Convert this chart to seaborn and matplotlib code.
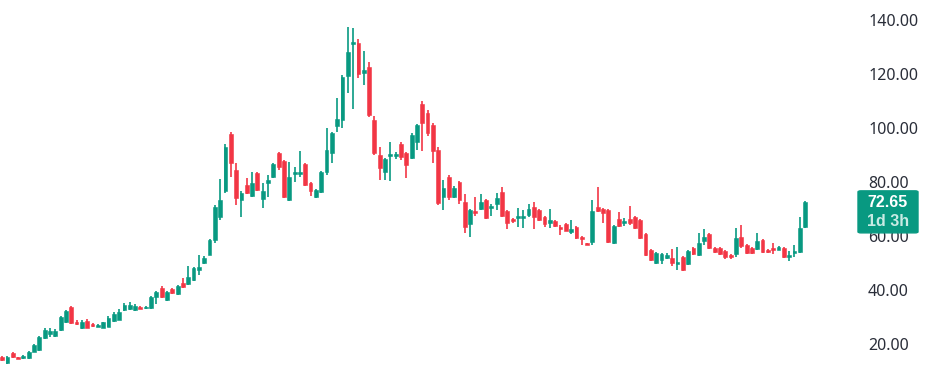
import matplotlib
matplotlib.use("Agg")
import matplotlib.pyplot as plt
from matplotlib.patches import FancyBboxPatch
import seaborn as sns
import pandas as pd
import numpy as np

# ---- data ----
opens = [15.3, 13.0, 16.7, 15.0, 14.8, 14.9, 17.2, 17.8, 22.2, 23.6, 22.8, 25.2, 28.0, 33.7, 28.0, 26.0,
         28.6, 27.3, 26.4, 26.0, 26.4, 28.5, 29.0, 32.6, 32.8, 32.6, 33.6, 33.2, 33.3, 37.4, 40.7, 36.3,
         40.4, 38.5, 42.6, 42.2, 43.7, 47.5, 50.0, 53.0, 58.5, 67.0, 76.7, 97.8, 84.4, 73.3, 79.0, 75.0,
         83.3, 73.7, 79.6, 81.9, 90.7, 87.8, 73.3, 83.0, 83.0, 86.7, 79.6, 74.4, 76.3, 83.7, 90.7, 100.7,
         103.0, 119.3, 131.0, 131.5, 120.4, 122.6, 103.0, 90.0, 83.7, 89.5, 89.5, 94.0, 90.7, 88.9, 94.8, 109.0,
         105.6, 101.0, 92.0, 74.4, 82.0, 74.4, 80.0, 72.6, 64.4, 69.3, 70.0, 73.3, 70.5, 71.8, 76.3, 69.3,
         66.3, 66.6, 66.6, 67.8, 70.7, 69.6, 67.0, 65.0, 65.5, 63.5, 64.4, 61.4, 63.3, 59.6, 57.4, 57.8,
         70.7, 70.0, 69.6, 57.4, 66.3, 64.8, 66.3, 67.0, 66.0, 60.7, 54.8, 50.0, 51.0, 52.0, 51.8, 49.8,
         52.2, 49.6, 55.5, 53.0, 58.1, 60.7, 55.5, 55.5, 54.4, 53.0, 53.3, 59.6, 56.7, 55.5, 55.2, 58.5,
         55.0, 55.2, 55.0, 55.5, 52.4, 53.6, 54.0, 63.3]
highs = [15.6, 15.5, 16.9, 15.2, 15.8, 17.5, 20.0, 23.0, 26.0, 26.0, 25.5, 30.3, 32.5, 34.0, 29.0, 28.8,
         29.3, 27.8, 27.5, 28.2, 30.5, 32.0, 33.0, 35.2, 35.5, 35.0, 34.0, 34.0, 37.8, 39.5, 41.5, 39.8,
         40.8, 42.0, 44.5, 49.0, 48.5, 53.0, 52.5, 59.0, 71.5, 81.0, 94.0, 98.5, 87.0, 76.5, 81.5, 83.7,
         83.7, 79.6, 82.6, 87.0, 91.0, 88.0, 87.3, 85.5, 91.5, 87.0, 80.0, 77.5, 84.0, 100.0, 98.5, 111.0,
         119.5, 137.5, 137.0, 133.0, 128.5, 124.5, 104.5, 93.0, 89.0, 95.0, 91.0, 95.0, 91.0, 98.0, 101.5, 110.0,
         106.5, 102.0, 93.0, 80.7, 82.5, 78.5, 80.5, 75.5, 70.0, 74.5, 75.5, 73.8, 72.0, 76.0, 78.0, 69.8,
         66.8, 70.5, 69.5, 72.0, 72.5, 70.0, 67.5, 70.0, 66.0, 64.0, 64.8, 66.0, 63.6, 60.0, 57.6, 73.3,
         78.0, 70.3, 70.0, 64.0, 68.8, 66.8, 71.3, 67.3, 66.3, 61.0, 55.1, 54.0, 53.7, 53.7, 55.1, 56.0,
         52.5, 55.0, 55.8, 61.0, 62.5, 61.0, 55.8, 55.8, 54.7, 53.3, 63.0, 64.0, 57.0, 55.8, 61.0, 58.8,
         55.3, 57.5, 56.3, 55.8, 54.5, 56.8, 67.0, 72.9]
lows = [13.6, 12.6, 14.8, 14.4, 14.3, 14.5, 17.0, 17.5, 21.8, 22.5, 22.5, 25.0, 27.8, 27.5, 27.0, 25.5,
        25.8, 26.2, 26.2, 25.8, 26.2, 28.2, 28.8, 32.3, 32.5, 32.3, 32.8, 32.9, 33.0, 35.0, 37.0, 36.0,
        38.5, 38.2, 40.8, 41.8, 43.3, 45.5, 49.5, 52.8, 57.5, 66.0, 76.0, 82.0, 71.5, 67.0, 75.5, 74.5,
        76.5, 70.4, 74.6, 81.5, 84.4, 74.0, 72.8, 80.0, 82.0, 78.5, 74.8, 73.9, 76.0, 82.5, 87.0, 98.6,
        100.0, 113.0, 107.0, 118.5, 116.0, 104.0, 90.0, 80.7, 80.6, 80.5, 88.5, 88.0, 81.5, 88.5, 92.0, 91.5,
        97.0, 87.0, 71.5, 69.6, 73.5, 74.0, 71.8, 61.0, 59.5, 67.5, 69.5, 66.2, 67.5, 69.5, 67.0, 62.5,
        65.0, 63.5, 63.0, 67.0, 62.5, 65.5, 63.5, 63.0, 63.3, 60.5, 61.7, 60.8, 59.0, 56.5, 56.5, 56.6,
        68.8, 65.0, 57.4, 57.0, 63.3, 63.8, 64.0, 62.6, 59.0, 52.6, 50.7, 49.6, 49.5, 51.5, 48.8, 47.3,
        47.0, 49.2, 53.0, 52.7, 56.5, 55.2, 53.6, 53.0, 51.5, 51.5, 52.3, 55.5, 53.4, 53.4, 54.8, 53.7,
        53.7, 53.5, 54.7, 52.0, 50.8, 52.2, 53.7, 63.0]
closes = [14.0, 15.2, 15.3, 14.6, 15.1, 17.0, 19.5, 22.6, 25.2, 24.8, 25.0, 30.0, 32.2, 27.8, 27.5, 28.3,
          26.0, 26.5, 27.2, 28.0, 29.8, 31.0, 31.8, 34.4, 34.6, 34.2, 33.1, 33.5, 37.4, 39.3, 37.4, 39.3,
          38.9, 41.5, 41.1, 44.8, 48.0, 48.5, 52.0, 58.5, 70.7, 73.3, 93.0, 87.0, 74.0, 76.0, 76.0, 79.6,
          77.0, 76.7, 80.7, 86.7, 85.6, 74.4, 81.9, 83.5, 83.5, 79.0, 76.7, 77.0, 83.7, 91.9, 98.0, 103.3,
          119.0, 128.0, 131.8, 120.0, 121.5, 104.8, 90.7, 85.2, 88.5, 90.5, 90.2, 89.3, 86.3, 97.4, 101.0, 102.0,
          98.0, 91.5, 72.2, 77.8, 74.4, 77.8, 73.3, 63.3, 69.6, 68.7, 72.6, 66.7, 71.3, 74.0, 67.4, 64.8,
          65.5, 67.2, 67.2, 70.0, 67.0, 66.0, 64.4, 66.0, 63.7, 62.5, 62.0, 62.7, 59.3, 58.8, 56.8, 69.3,
          69.3, 68.5, 57.8, 63.7, 63.7, 65.6, 65.0, 63.0, 59.3, 53.0, 51.0, 53.7, 53.4, 53.0, 50.0, 50.4,
          47.4, 54.4, 53.3, 57.4, 59.6, 55.5, 54.0, 53.3, 52.2, 52.2, 59.3, 56.3, 53.7, 53.7, 58.1, 54.0,
          54.0, 54.8, 56.0, 52.2, 52.9, 54.2, 63.0, 72.65]
y_ticks = [20, 40, 60, 80, 100, 120, 140]
price_label = "72.65"
countdown_label = "1d 3h"

UP = "#089981"
DOWN = "#F23645"

sns.set_theme(style="white")
plt.rcParams["font.family"] = ["Noto Sans", "DejaVu Sans"]

df = pd.DataFrame({"open": opens, "high": highs, "low": lows, "close": closes})
df["idx"] = np.arange(len(df))
df["up"] = df["close"] >= df["open"]
df["color"] = np.where(df["up"], UP, DOWN)
df["bottom"] = df[["open", "close"]].min(axis=1)
df["height"] = (df["close"] - df["open"]).abs().clip(lower=0.7)

W, H = 940, 367
fig = plt.figure(figsize=(W / 100, H / 100), dpi=100)
fig.patch.set_facecolor("white")
ax = fig.add_axes([0, 0, 850 / W, 1])
ax.set_facecolor("white")

ax.vlines(df["idx"], df["low"], df["high"], colors=df["color"], linewidth=1.2, zorder=2)
ax.bar(df["idx"], df["height"], bottom=df["bottom"], width=0.72, color=df["color"],
       edgecolor=df["color"], linewidth=0.4, zorder=3)

n = len(df)
ax.set_xlim(-0.4, (n - 1) + 45 / 5.33)
ax.set_ylim(11.5, 147.4)
ax.set_xticks([])
ax.yaxis.tick_right()
ax.set_yticks(y_ticks)
ax.set_yticklabels([f"{v:.2f}" for v in y_ticks])
ax.tick_params(axis="y", length=0, pad=13, labelsize=11.5, labelcolor="#2a2e39")
for s in ax.spines.values():
    s.set_visible(False)
ax.grid(False)

# price label box on the right scale
fig.canvas.draw()
ypix = ax.transData.transform((0, closes[-1]))[1]
box_h, box_w = 42, 60
box = FancyBboxPatch((858 / W, (ypix - 31) / H), box_w / W, box_h / H,
                     boxstyle="round,pad=0,rounding_size=0.003", transform=fig.transFigure,
                     facecolor=UP, edgecolor=UP, zorder=5)
fig.patches.append(box)
fig.text(888 / W, (ypix - 1) / H, price_label, ha="center", va="center", color="white",
         fontsize=11.5, fontweight="bold", family=["Liberation Sans", "DejaVu Sans"], zorder=10)
fig.text(888 / W, (ypix - 20) / H, countdown_label, ha="center", va="center", color="#c8ebe4",
         fontsize=11.5, fontweight="bold", family=["Liberation Sans", "DejaVu Sans"], zorder=10)

fig.savefig("out.png", dpi=100, facecolor="white")
